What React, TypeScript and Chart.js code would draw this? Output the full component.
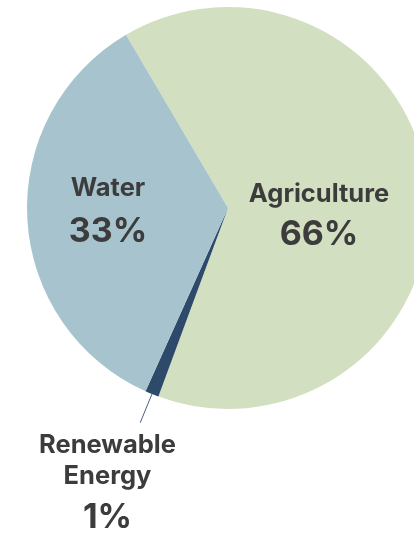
import React, { useEffect, useRef } from "react";
import { Chart, registerables } from "chart.js";

Chart.register(...registerables);

const categories = ["Agriculture", "Renewable Energy", "Water"];
const shares = [64.1, 1.1, 34.8];
const shareLabels = ["66%", "1%", "33%"];
const nameLines = [["Agriculture"], ["Renewable", "Energy"], ["Water"]];
const colors = ["#d3dfc1", "#2e4a6b", "#a7c4ce"];

// label layout relative to chart centre: [dx, baselines..., pct baseline]
const labelLayout = [
  { dx: 91, lines: [-6.3], pct: 37 },
  { dx: -120.5, lines: [245.3, 276.3], pct: 320.3 },
  { dx: -120, lines: [-12], pct: 33.7 },
];

const labelPlugin = {
  id: "pieLabels",
  afterDraw(chart: any) {
    const ctx = chart.ctx;
    const meta = chart.getDatasetMeta(0);
    const arc0 = meta.data[0] as any;
    const cx = arc0.x;
    const cy = arc0.y;
    ctx.save();
    ctx.fillStyle = "#3c3c3c";
    ctx.textAlign = "center";
    ctx.textBaseline = "alphabetic";
    meta.data.forEach((arc: any, i: number) => {
      const l = labelLayout[i];
      ctx.font = "bold 25.5px Inter";
      nameLines[i].forEach((t, j) => ctx.fillText(t, cx + l.dx, cy + l.lines[j]));
      ctx.font = "bold 34px Inter";
      ctx.fillText(shareLabels[i], cx + l.dx, cy + l.pct);
    });
    // leader line for the small slice
    const a = meta.data[1] as any;
    const mid = (a.startAngle + a.endAngle) / 2;
    const r0 = a.outerRadius;
    const r1 = a.outerRadius + 31;
    ctx.strokeStyle = "#4a6080";
    ctx.lineWidth = 1;
    ctx.beginPath();
    ctx.moveTo(a.x + Math.cos(mid) * r0, a.y + Math.sin(mid) * r0);
    ctx.lineTo(a.x + Math.cos(mid) * r1, a.y + Math.sin(mid) * r1);
    ctx.stroke();
    ctx.restore();
  },
};

export default function App() {
  const ref = useRef<HTMLCanvasElement>(null);
  useEffect(() => {
    if (!ref.current) return;
    const chart = new Chart(ref.current, {
      type: "pie",
      data: {
        labels: categories,
        datasets: [
          {
            data: shares,
            backgroundColor: colors,
            borderWidth: 0,
          },
        ],
      },
      options: {
        responsive: false,
        animation: false,
        rotation: -30.5,
        layout: { padding: { left: 27, top: 7, right: 27, bottom: 127 } },
        plugins: {
          legend: { display: false },
          tooltip: { enabled: false },
        },
      },
      plugins: [labelPlugin],
    });
    return () => chart.destroy();
  }, []);
  return (
    <div
      style={{
        position: "fixed",
        left: 0,
        top: 0,
        width: 414,
        height: 536,
        overflow: "hidden",
        background: "#fff",
      }}
    >
      <canvas ref={ref} width={456} height={536} style={{ display: "block" }} />
    </div>
  );
}
